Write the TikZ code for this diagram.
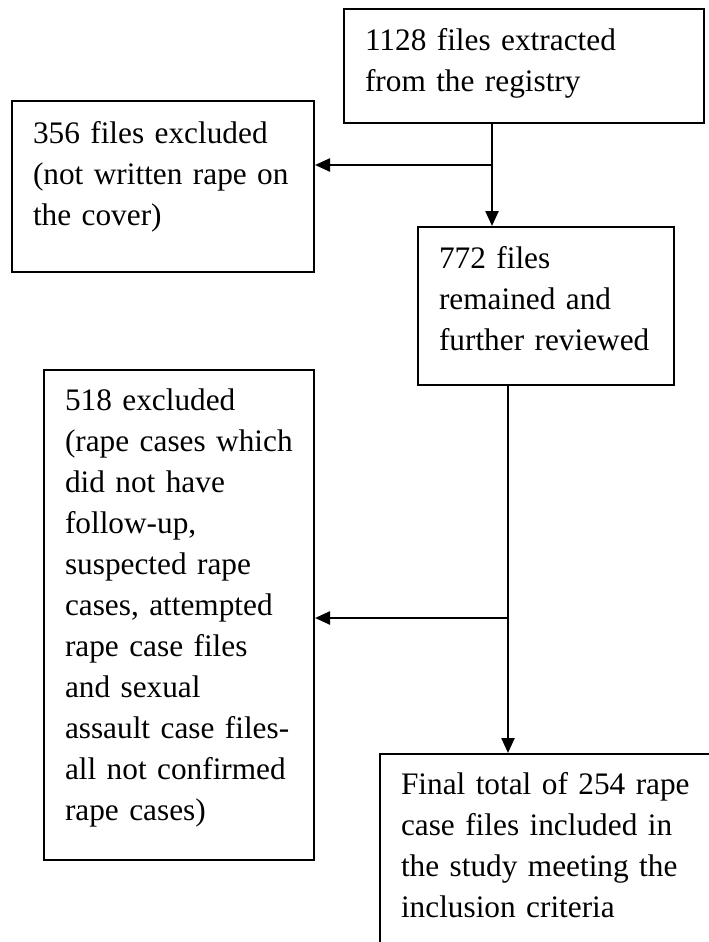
\documentclass[tikz,border=0pt]{standalone}
\usepackage{fontspec}
\setmainfont[Ligatures=NoCommon]{Liberation Serif}
\usepackage{tikz}
\usetikzlibrary{arrows.meta}

\begin{document}
\begin{tikzpicture}[x=1pt,y=-1pt,
        flowbox/.style={draw,line width=2pt,anchor=north west,align=left,inner xsep=21pt,inner ysep=0pt,font=\fontsize{31.3pt}{41pt}\selectfont},
        flowarrow/.style={line width=2.4pt,-{Triangle[length=15pt,width=13pt]}}]
        \clip (0,0) rectangle (709,942);
        \node[flowbox,text width=318pt,text height=42pt,text depth=72pt] (extract) at (343,8) {1128 files extracted\\from the registry};
        \node[flowbox,text width=260pt,text height=42pt,text depth=129pt] (excl1) at (11,100) {356 files excluded\\(not written rape on\\the cover)};
        \node[flowbox,text width=214pt,text height=41pt,text depth=117pt] (review) at (417,226) {772 files\\remained and\\further reviewed};
        \node[flowbox,text width=228pt,text height=40pt,text depth=450pt] (excl2) at (43,369) {518 excluded\\(rape cases which\\did not have\\follow-up,\\suspected rape\\cases, attempted\\rape case files\\and sexual\\assault case files-\\all not confirmed\\rape cases)};
        \node[flowbox,text width=339pt,text height=40pt,text depth=240pt] (final) at (379,753) {Final total of 254 rape\\case files included in\\the study meeting the\\inclusion criteria};
        \coordinate (fork1) at (492,165);
        \coordinate (fork2) at (508,618);
        \draw[flowarrow] (extract.south -| fork1) -- (review.north -| fork1);
        \draw[flowarrow] (fork1) -- (fork1 -| excl1.east);
        \draw[flowarrow] (review.south -| fork2) -- (final.north -| fork2);
        \draw[flowarrow] (fork2) -- (fork2 -| excl2.east);
\end{tikzpicture}
\end{document}
